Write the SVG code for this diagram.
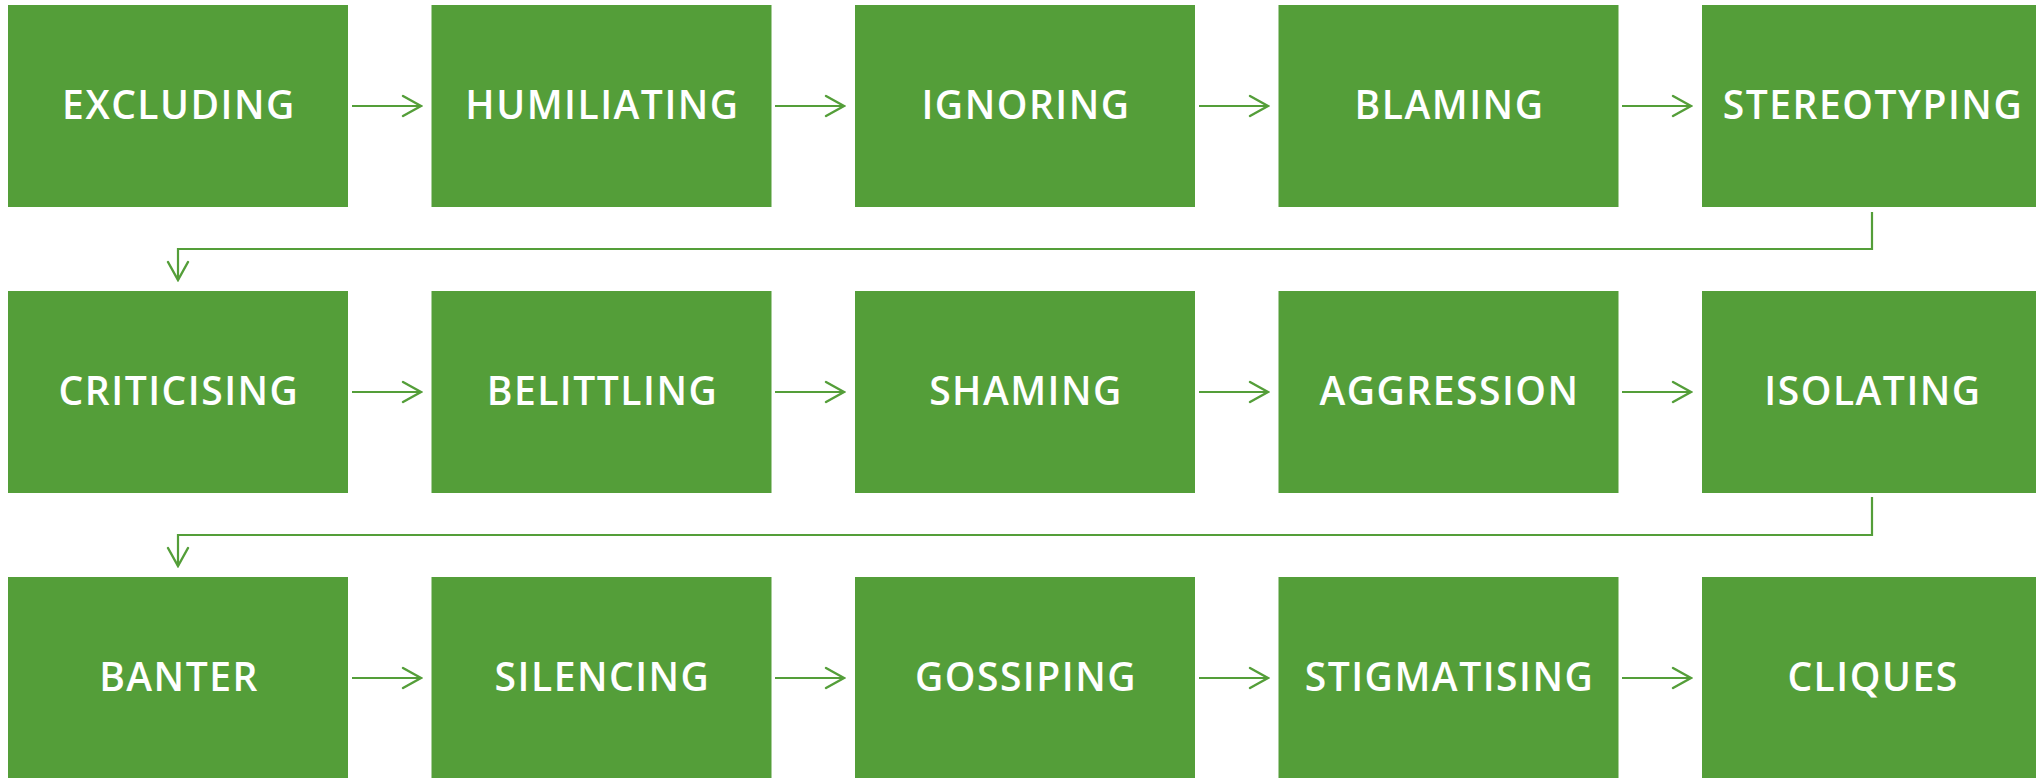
<svg xmlns="http://www.w3.org/2000/svg" width="2036" height="778" viewBox="0 0 2036 778">
<style>
.box{fill:#549E39}
.lbl{fill:#ffffff;font-family:"Open Sans","Liberation Sans",sans-serif;font-weight:600;font-size:39px;letter-spacing:1.5px;text-anchor:middle}
.con{fill:none;stroke:#549E39;stroke-width:2.2}
</style>
<defs>
<marker id="ah" viewBox="0 0 22 24" refX="20" refY="12" markerWidth="22" markerHeight="24" markerUnits="userSpaceOnUse" orient="auto">
<path d="M2,2 L20,12 L2,22" fill="none" stroke="#549E39" stroke-width="2.4" stroke-linecap="round"/>
</marker>
</defs>
<rect width="2036" height="778" fill="#ffffff"/>
<g id="connectors">
<path class="con" d="M352,106 H421" marker-end="url(#ah)"/>
<path class="con" d="M775,106 H844" marker-end="url(#ah)"/>
<path class="con" d="M1199,106 H1268" marker-end="url(#ah)"/>
<path class="con" d="M1622,106 H1691" marker-end="url(#ah)"/>
<path class="con" d="M1872,212 V249 H178 V280" marker-end="url(#ah)"/>
<path class="con" d="M352,392 H421" marker-end="url(#ah)"/>
<path class="con" d="M775,392 H844" marker-end="url(#ah)"/>
<path class="con" d="M1199,392 H1268" marker-end="url(#ah)"/>
<path class="con" d="M1622,392 H1691" marker-end="url(#ah)"/>
<path class="con" d="M1872,497 V535 H178 V566" marker-end="url(#ah)"/>
<path class="con" d="M352,678 H421" marker-end="url(#ah)"/>
<path class="con" d="M775,678 H844" marker-end="url(#ah)"/>
<path class="con" d="M1199,678 H1268" marker-end="url(#ah)"/>
<path class="con" d="M1622,678 H1691" marker-end="url(#ah)"/>
</g>
<g id="n1"><rect class="box" x="8" y="5" width="340" height="202"/><text class="lbl" x="179" y="119">EXCLUDING</text></g>
<g id="n2"><rect class="box" x="431.5" y="5" width="340" height="202"/><text class="lbl" x="602.5" y="119">HUMILIATING</text></g>
<g id="n3"><rect class="box" x="855" y="5" width="340" height="202"/><text class="lbl" x="1026" y="119">IGNORING</text></g>
<g id="n4"><rect class="box" x="1278.5" y="5" width="340" height="202"/><text class="lbl" x="1449.5" y="119">BLAMING</text></g>
<g id="n5"><rect class="box" x="1702" y="5" width="340" height="202"/><text class="lbl" x="1873" y="119">STEREOTYPING</text></g>
<g id="n6"><rect class="box" x="8" y="291" width="340" height="202"/><text class="lbl" x="179" y="405">CRITICISING</text></g>
<g id="n7"><rect class="box" x="431.5" y="291" width="340" height="202"/><text class="lbl" x="602.5" y="405">BELITTLING</text></g>
<g id="n8"><rect class="box" x="855" y="291" width="340" height="202"/><text class="lbl" x="1026" y="405">SHAMING</text></g>
<g id="n9"><rect class="box" x="1278.5" y="291" width="340" height="202"/><text class="lbl" x="1449.5" y="405">AGGRESSION</text></g>
<g id="n10"><rect class="box" x="1702" y="291" width="340" height="202"/><text class="lbl" x="1873" y="405">ISOLATING</text></g>
<g id="n11"><rect class="box" x="8" y="577" width="340" height="202"/><text class="lbl" x="179" y="691">BANTER</text></g>
<g id="n12"><rect class="box" x="431.5" y="577" width="340" height="202"/><text class="lbl" x="602.5" y="691">SILENCING</text></g>
<g id="n13"><rect class="box" x="855" y="577" width="340" height="202"/><text class="lbl" x="1026" y="691">GOSSIPING</text></g>
<g id="n14"><rect class="box" x="1278.5" y="577" width="340" height="202"/><text class="lbl" x="1449.5" y="691">STIGMATISING</text></g>
<g id="n15"><rect class="box" x="1702" y="577" width="340" height="202"/><text class="lbl" x="1873" y="691">CLIQUES</text></g>
</svg>
